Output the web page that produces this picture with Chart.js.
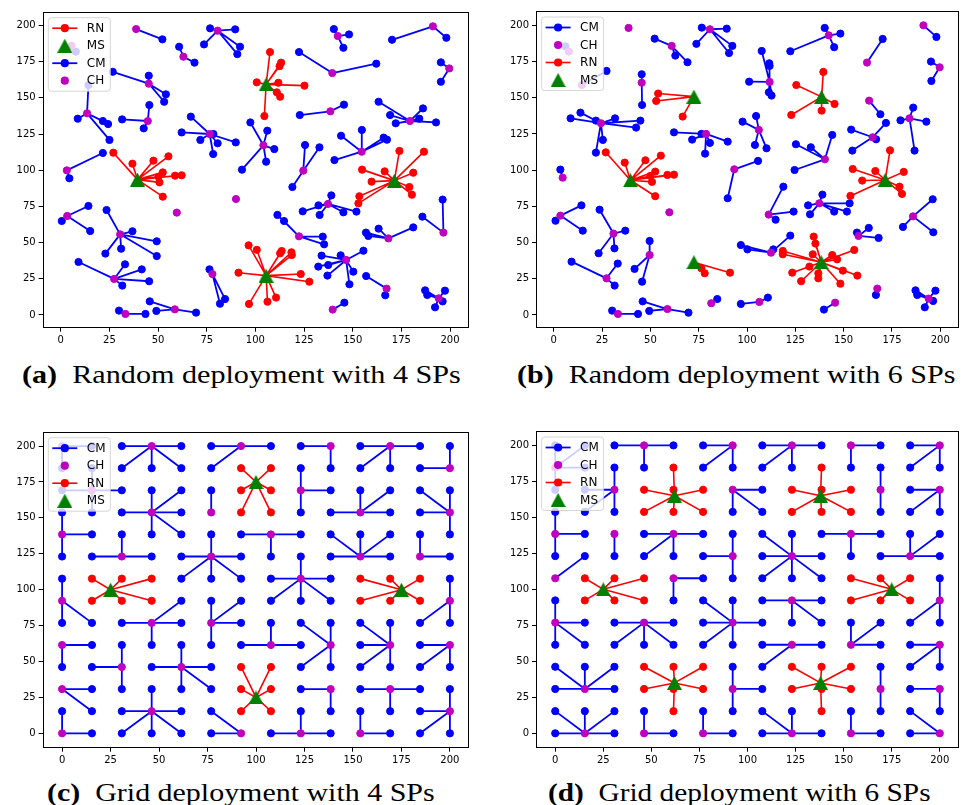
<!DOCTYPE html>
<html>
<head>
<meta charset="utf-8">
<script src="https://cdn.jsdelivr.net/npm/chart.js@4/dist/chart.umd.min.js"></script>
<style>
  body { margin: 0; width: 967px; height: 805px; background: #fff; position: relative; overflow: hidden; }
  canvas { position: absolute; }
  .cap { position: absolute; font-family: "Liberation Serif", serif; font-size: 25px; line-height: 28px;
         white-space: nowrap; transform-origin: 0 0; color: #000; }
</style>
</head>
<body>
<canvas id="chartA" width="480" height="350" style="left:0;top:0"></canvas>
<canvas id="chartB" width="477" height="350" style="left:490px;top:0"></canvas>
<canvas id="chartC" width="480" height="350" style="left:0;top:420px"></canvas>
<canvas id="chartD" width="477" height="350" style="left:490px;top:420px"></canvas>

<div class="cap" data-w="439" style="left:22px;top:361px"><b>(a)</b>&ensp;Random deployment with 4 SPs</div>
<div class="cap" data-w="438" style="left:517px;top:361px"><b>(b)</b>&ensp;Random deployment with 6 SPs</div>
<div class="cap" data-w="388" style="left:47px;top:779px"><b>(c)</b>&ensp;Grid deployment with 4 SPs</div>
<div class="cap" data-w="382" style="left:548px;top:779px"><b>(d)</b>&ensp;Grid deployment with 6 SPs</div>

<script>
// tick labels shared by every axis
const tickVals = [0, 25, 50, 75, 100, 125, 150, 175, 200];

// ---- (a) random deployment, 4 SPs ----
const aMS = [[39.4, 93.5], [105.5, 159.3], [171.4, 92.8], [105.5, 27.2]];
const aRN = [
  [[27.0, 112.1], [36.8, 104.5], [47.6, 106.6], [55.3, 109.6], [52.4, 98.5], [50.2, 95.5], [58.7, 96.2], [62.1, 96.5], [50.7, 91.6], [52.4, 81.7]],
  [[107.5, 181.6], [113.2, 174.3], [112.4, 171.9], [100.7, 160.7], [111.8, 160.4], [125.2, 158.4], [111.0, 153.8], [112.7, 150.8], [104.6, 137.4]],
  [[174.0, 113.3], [186.6, 112.8], [154.8, 100.4], [166.4, 99.2], [159.7, 92.1], [181.1, 98.3], [179.1, 88.4], [180.4, 83.1], [153.4, 82.0], [152.9, 77.1]],
  [[96.5, 48.1], [100.7, 45.0], [112.7, 42.6], [113.5, 44.2], [118.5, 43.3], [118.7, 41.4], [123.3, 28.3], [127.7, 23.0], [106.2, 9.2], [110.6, 12.0], [96.7, 7.6], [91.3, 29.2]]
];
const aCH = [
  [38.7, 197.5], [80.6, 196.4], [63.0, 178.4], [45.2, 159.8], [5.6, 186.0], [13.5, 139.3], [44.7, 134.0],
  [76.5, 125.0], [3.1, 99.9], [90.0, 80.1], [59.6, 70.7], [3.3, 68.4], [30.5, 55.7], [27.4, 24.9],
  [58.6, 3.9], [33.2, 0.7], [77.9, 28.3], [142.3, 192.7], [191.2, 199.4], [199.6, 170.3], [139.5, 167.1],
  [138.5, 140.7], [179.4, 134.0], [104.1, 117.2], [124.6, 99.7], [154.6, 112.8], [137.3, 76.7], [196.6, 56.9],
  [122.4, 54.3], [168.3, 52.9], [146.6, 38.0], [167.4, 18.2], [194.2, 11.5], [139.7, 3.7]
];
const aCM = [
  [[52.2, 190.4]],
  [[76.7, 198.0], [89.6, 197.3], [92.1, 185.3], [90.7, 180.2], [73.6, 186.9]],
  [[60.8, 185.3], [68.7, 174.3]],
  [[26.7, 168.0], [45.2, 165.3], [54.0, 152.4], [53.1, 147.3]],
  [[7.7, 181.9]],
  [[14.2, 158.8], [8.7, 135.6], [21.6, 134.0], [24.3, 131.9], [25.0, 120.9]],
  [[45.5, 145.0], [31.5, 135.1], [42.6, 128.9]],
  [[66.8, 137.0], [62.1, 126.1], [71.7, 120.9], [78.4, 125.0], [80.6, 118.6], [89.9, 119.2], [78.3, 111.2]],
  [[21.6, 111.9], [4.4, 94.4]],
  [],
  [],
  [[14.2, 75.3], [0.5, 64.9], [15.1, 58.0]],
  [[23.5, 72.5], [36.8, 57.8], [49.3, 50.9], [49.3, 40.7], [31.0, 45.8], [22.9, 42.4]],
  [[9.1, 36.6], [33.0, 35.0], [41.6, 31.5], [45.4, 23.3], [31.6, 20.3]],
  [[45.7, 9.4], [49.1, 2.8], [69.5, 1.6]],
  [[29.9, 3.0], [43.5, 0.7]],
  [[76.4, 31.5], [81.8, 7.8], [84.4, 11.0]],
  [[140.3, 197.5], [148.1, 193.8], [145.2, 184.6]],
  [[170.2, 190.1], [198.1, 191.5]],
  [[195.3, 174.5], [195.3, 161.1]],
  [[122.4, 181.6], [162.1, 173.6]],
  [[122.8, 138.1], [145.5, 145.3]],
  [[163.3, 147.3], [169.2, 138.1], [172.1, 132.4], [186.1, 142.7], [184.2, 135.6], [192.8, 133.0]],
  [[97.4, 133.0], [106.1, 127.3], [109.7, 114.6], [105.5, 105.9], [93.1, 100.4]],
  [[125.5, 117.4], [132.9, 115.8], [119.0, 88.4]],
  [[144.0, 123.8], [154.7, 127.8], [165.9, 122.5], [167.6, 121.1], [140.6, 107.0]],
  [[139.0, 82.6], [124.3, 71.6], [132.4, 75.7], [133.0, 69.1], [145.2, 70.9], [151.9, 71.4]],
  [[196.2, 79.7], [185.8, 67.9]],
  [[111.3, 69.1], [114.7, 64.9], [134.6, 54.1], [135.3, 48.8]],
  [[156.8, 56.9], [163.3, 59.6], [181.1, 60.5], [158.0, 54.6]],
  [[155.5, 44.4], [143.8, 41.2], [134.0, 41.0], [132.3, 33.4], [137.0, 27.2], [150.3, 29.9], [148.3, 21.2], [137.4, 34.5]],
  [[156.9, 26.9], [166.7, 13.6]],
  [[187.2, 17.0], [188.3, 13.8], [197.4, 16.8], [196.2, 9.4], [192.3, 5.3]],
  [[145.7, 8.5]]
];

// ---- (b) random deployment, 6 SPs ----
const bMS = [[39.7, 93.0], [72.5, 150.8], [72.5, 36.4], [138.6, 150.6], [171.5, 93.2], [138.4, 36.4]];
const bRN = [
  [[26.9, 112.3], [36.7, 105.2], [47.4, 106.8], [55.4, 110.0], [52.5, 99.0], [50.0, 96.0], [58.8, 96.7], [62.2, 96.9], [50.8, 91.9], [52.5, 82.0]],
  [[54.0, 152.9], [53.0, 147.8], [66.7, 137.0]],
  [[76.4, 32.2], [78.1, 28.8], [91.2, 29.2]],
  [[139.5, 167.8], [125.5, 158.8], [145.3, 145.7], [122.9, 138.1], [138.6, 141.1]],
  [[174.0, 113.7], [154.7, 100.8], [166.4, 99.4], [181.1, 98.8], [159.6, 92.8], [178.9, 88.6], [180.2, 83.6], [153.5, 82.2]],
  [[134.5, 54.1], [135.4, 49.3], [118.5, 44.2], [118.5, 41.9], [134.0, 41.9], [144.1, 41.4], [146.6, 38.4], [155.5, 44.9],
   [123.4, 29.2], [132.3, 33.4], [136.9, 28.8], [136.9, 25.3], [128.0, 23.3], [149.6, 30.6], [157.1, 27.2], [148.3, 21.6]]
];
const bCH = [
  [7.8, 181.9], [14.5, 158.8], [38.7, 198.2], [61.0, 185.8], [80.8, 197.3], [45.5, 160.4], [24.4, 132.4],
  [78.8, 125.0], [93.4, 100.6], [4.6, 94.8], [59.8, 70.9], [3.4, 68.6], [30.9, 56.2], [49.6, 41.4],
  [27.3, 25.3], [81.5, 8.1], [58.8, 4.1], [33.2, 0.7], [142.3, 193.1], [162.1, 174.3], [191.3, 200.0],
  [199.7, 171.0], [111.7, 160.9], [163.2, 148.0], [184.1, 135.8], [106.1, 127.8], [165.0, 122.7], [140.3, 107.5],
  [137.4, 77.1], [111.2, 69.3], [185.9, 68.1], [157.7, 54.6], [112.4, 43.0], [167.4, 18.2], [194.0, 11.3],
  [145.6, 8.5], [106.4, 9.0]
];
const bCM = [
  [[6.0, 185.5]],
  [[27.3, 168.5]],
  [],
  [[52.2, 190.8], [62.9, 179.1], [69.2, 174.5]],
  [[76.6, 198.4], [89.5, 197.7], [92.4, 185.8], [90.7, 180.9], [73.8, 187.2]],
  [[45.5, 166.2], [45.7, 145.0]],
  [[8.7, 135.8], [13.8, 139.7], [21.8, 134.2], [31.7, 135.8], [44.8, 134.2], [42.6, 129.4], [25.4, 120.9], [21.8, 112.1]],
  [[62.2, 126.1], [71.6, 121.1], [76.4, 125.0], [80.8, 118.8], [90.0, 119.7], [78.3, 111.4]],
  [[90.0, 80.6], [105.7, 106.4]],
  [[3.4, 100.4]],
  [],
  [[14.3, 75.7], [0.9, 65.1], [15.0, 58.2]],
  [[23.7, 72.7], [37.0, 58.2], [23.2, 42.6], [31.4, 46.0]],
  [[49.6, 51.1], [41.8, 31.8], [45.7, 23.0]],
  [[9.2, 36.8], [33.1, 35.5], [31.5, 20.3]],
  [[84.6, 11.0]],
  [[46.0, 9.4], [49.4, 2.8], [69.7, 1.6]],
  [[30.2, 3.0], [43.6, 0.7]],
  [[140.2, 198.2], [148.3, 194.3], [145.1, 184.9], [122.4, 182.1]],
  [[170.2, 190.6]],
  [[198.0, 192.0]],
  [[195.2, 175.0], [195.4, 161.6]],
  [[107.6, 182.3], [111.5, 173.8], [111.7, 172.0], [101.1, 161.1], [112.7, 151.5], [111.3, 153.8]],
  [[169.0, 138.6]],
  [[186.0, 143.2], [179.4, 134.4], [192.8, 133.5], [186.7, 113.5]],
  [[97.7, 133.5], [104.7, 137.4], [104.1, 117.4], [110.1, 115.1]],
  [[153.9, 128.0], [171.9, 132.6], [166.8, 121.3], [154.5, 113.5]],
  [[125.3, 117.9], [133.0, 115.8], [144.1, 124.3], [124.6, 100.1]],
  [[139.0, 83.1], [131.6, 75.7], [132.6, 69.5], [145.1, 71.4], [151.7, 71.4], [153.1, 77.1]],
  [[118.8, 88.6], [124.1, 71.4], [114.8, 65.8]],
  [[196.1, 79.9], [180.7, 60.8], [196.4, 57.1]],
  [[156.9, 56.9], [163.0, 60.1], [168.1, 53.2]],
  [[122.4, 54.8], [96.8, 48.3], [100.2, 45.3], [113.6, 45.3]],
  [[166.7, 13.8]],
  [[187.2, 17.0], [188.1, 13.8], [197.5, 16.8], [196.3, 9.7], [192.0, 5.3]],
  [[139.8, 3.7]],
  [[110.8, 12.0], [96.8, 7.6]]
];

// ---- grid deployments: nodes sit on a 14 x 14 lattice, given as [column, row] ----
const gridPos = [0, 15.4, 30.8, 46.2, 61.5, 76.9, 92.3, 107.7, 123.1, 138.5, 153.8, 169.2, 184.6, 200];

// (c) grid deployment, 4 SPs (MS given in plot units)
const cMS = [[25, 100], [100, 175], [175, 100], [100, 25]];
const cRN = [
  [[1, 7], [2, 7], [3, 7], [1, 6], [2, 6], [3, 6]],
  [[6, 12], [6, 11], [6, 10], [7, 12], [7, 11], [7, 10]],
  [[10, 7], [11, 7], [12, 7], [10, 6], [11, 6], [12, 6]],
  [[6, 3], [6, 2], [6, 1], [7, 3], [7, 2], [7, 1]]
];
const cCH = [
  [0, 13], [3, 13], [6, 13], [1, 11], [3, 10], [5, 10], [0, 9], [2, 8], [5, 8], [7, 9], [0, 6], [3, 5], [5, 5],
  [0, 4], [2, 3], [4, 3], [7, 4], [0, 2], [3, 1], [0, 0], [6, 0], [9, 13], [11, 13], [13, 12], [8, 11], [10, 10],
  [13, 10], [10, 8], [12, 8], [8, 7], [13, 6], [9, 4], [11, 4], [13, 4], [9, 2], [11, 2], [13, 1], [8, 0], [10, 0]
];
const cCM = [
  [[0, 12], [1, 13]],
  [[2, 13], [4, 13], [2, 12], [3, 12], [4, 12]],
  [[5, 13], [5, 12], [7, 13]],
  [[0, 11], [2, 11], [1, 12], [1, 10]],
  [[3, 11], [4, 11], [2, 10], [4, 10], [4, 9], [3, 9]],
  [[5, 11]],
  [[0, 10], [1, 9], [0, 8]],
  [[2, 9], [1, 8], [3, 8]],
  [[5, 9], [4, 8], [6, 8], [4, 7], [5, 7], [6, 7]],
  [[6, 9], [8, 9], [7, 8]],
  [[0, 7], [1, 5], [0, 5]],
  [[2, 5], [4, 5], [4, 6], [3, 4]],
  [[5, 6], [6, 6], [6, 5], [5, 4]],
  [[1, 4], [0, 3]],
  [[2, 4], [1, 3], [2, 2]],
  [[4, 4], [3, 3], [5, 3], [4, 2], [5, 2]],
  [[6, 4], [8, 4], [7, 5]],
  [[1, 2], [1, 1]],
  [[3, 2], [2, 1], [4, 1], [3, 0], [2, 0], [4, 0]],
  [[0, 1], [1, 0]],
  [[5, 1], [5, 0]],
  [[8, 13], [9, 12]],
  [[10, 13], [12, 13], [10, 12], [11, 12]],
  [[13, 13], [12, 12]],
  [[8, 12], [9, 11], [8, 10]],
  [[10, 11], [11, 11], [9, 10], [11, 10]],
  [[12, 11], [13, 11], [12, 10], [13, 9]],
  [[9, 9], [10, 9], [11, 9], [9, 8], [11, 8]],
  [[12, 9], [13, 8]],
  [[7, 7], [9, 7], [7, 6], [8, 6], [9, 6], [8, 8]],
  [[13, 7], [12, 5], [13, 5]],
  [[8, 5], [9, 5], [8, 3], [9, 3]],
  [[10, 5], [11, 5], [10, 4], [10, 3], [11, 3]],
  [[12, 4], [12, 3], [13, 3]],
  [[8, 2], [9, 1]],
  [[10, 2], [12, 2], [11, 1]],
  [[13, 2], [12, 1], [12, 0], [13, 0]],
  [[8, 1], [7, 0], [9, 0]],
  [[10, 1], [11, 0]]
];

// (d) grid deployment, 6 SPs
const dMS = [[25, 100], [62, 165], [62, 35], [138, 165], [138, 35], [175, 100]];
const dRN = [
  [[1, 7], [2, 7], [3, 7], [1, 6], [2, 6], [3, 6]],
  [[4, 12], [3, 11], [4, 11], [5, 11], [3, 10], [4, 10], [5, 10]],
  [[3, 3], [4, 3], [5, 3], [3, 2], [4, 2], [5, 2], [4, 1]],
  [[9, 12], [8, 11], [9, 11], [10, 11], [8, 10], [9, 10], [10, 10]],
  [[8, 3], [9, 3], [10, 3], [8, 2], [9, 2], [10, 2], [9, 1]],
  [[10, 7], [11, 7], [12, 7], [10, 6], [11, 6], [12, 6]]
];
const dCH = [
  [0, 12], [3, 13], [6, 13], [2, 11], [6, 11], [0, 9], [2, 9], [4, 9], [6, 8], [0, 7], [4, 7], [0, 5], [3, 5],
  [6, 5], [1, 2], [6, 2], [1, 0], [3, 0], [5, 0], [8, 13], [10, 13], [13, 13], [11, 11], [13, 11], [10, 9],
  [8, 8], [12, 8], [13, 6], [8, 6], [10, 4], [8, 4], [13, 4], [11, 2], [13, 2], [8, 0], [10, 0], [13, 0]
];
const dCM = [
  [[0, 13], [1, 13], [1, 12], [0, 11]],
  [[2, 13], [4, 13], [3, 12]],
  [[5, 13], [5, 12], [6, 12]],
  [[2, 12], [1, 11], [1, 10], [2, 10]],
  [[7, 11], [7, 10], [6, 10]],
  [[1, 9], [0, 10], [0, 8]],
  [[2, 8]],
  [[3, 9], [5, 9], [3, 8], [4, 8]],
  [[5, 8], [6, 9], [6, 7]],
  [[1, 8]],
  [[5, 7], [4, 6]],
  [[1, 5], [1, 4], [0, 4], [0, 6]],
  [[2, 5], [4, 5], [2, 4], [3, 4], [4, 4]],
  [[5, 5], [7, 5], [5, 4], [6, 4], [5, 6], [6, 6]],
  [[0, 2], [2, 2], [0, 3], [1, 3], [2, 3]],
  [[6, 3], [7, 2], [6, 1]],
  [[0, 0], [2, 0], [0, 1], [1, 1], [2, 1]],
  [[3, 1], [4, 0]],
  [[5, 1], [6, 0]],
  [[7, 13], [9, 13], [7, 12], [8, 12]],
  [[11, 13], [10, 12]],
  [[12, 13], [12, 12], [13, 12]],
  [[11, 12], [11, 10]],
  [[12, 11], [12, 10], [13, 10]],
  [[9, 9], [11, 9], [10, 8]],
  [[7, 9], [8, 9], [7, 8], [9, 8], [7, 7], [8, 7], [9, 7]],
  [[12, 9], [13, 9], [11, 8], [13, 8]],
  [[13, 7], [12, 5], [13, 5]],
  [[7, 6], [9, 6], [8, 5], [9, 5]],
  [[10, 5], [11, 5], [11, 4]],
  [[7, 4], [9, 4], [7, 3]],
  [[12, 4], [12, 3], [13, 3]],
  [[11, 3], [11, 1]],
  [[12, 2], [13, 1]],
  [[7, 0], [9, 0], [7, 1], [8, 1]],
  [[10, 1], [11, 0]],
  [[12, 0], [12, 1]]
];

const BLUE = '#0000ff', MAGENTA = '#bf00bf', RED = '#ff0000', GREEN = '#008000';

// green up-triangle marker, centred on its bounding box
const tri = document.createElement('canvas');
tri.width = 15; tri.height = 14;
const tc = tri.getContext('2d');
tc.fillStyle = GREEN;
tc.beginPath(); tc.moveTo(7.5, 0); tc.lineTo(15, 14); tc.lineTo(0, 14); tc.closePath(); tc.fill();

const pt = p => ({ x: p[0], y: p[1] });
const gp = p => ({ x: gridPos[p[0]], y: gridPos[p[1]] });

// center -> member -> center -> member ... so one dataset draws a whole star
function star(center, members) {
  const out = [];
  members.forEach(m => out.push(center, m));
  return out;
}

const lineSet = (data, color, w) => ({
  data, showLine: true, borderColor: color, borderWidth: w, pointRadius: 0,
  borderJoinStyle: 'round', borderCapStyle: 'round'
});
const dotSet = (data, color) => ({
  data, showLine: false, pointRadius: 3.6, pointBorderWidth: 1,
  pointBackgroundColor: color, pointBorderColor: color
});
const triSet = data => ({ data, showLine: false, pointStyle: tri, pointRadius: 7 });

function buildNet(ms, rn, ch, cm, redFirst) {
  const blue = [];
  cm.forEach((g, k) => { if (g.length) blue.push(lineSet(star(ch[k], g), BLUE, 1.8)); });
  blue.push(dotSet(cm.flat(), BLUE));
  blue.push(dotSet(ch, MAGENTA));
  const red = [];
  rn.forEach((g, k) => red.push(lineSet(star(ms[k], g), RED, 1.6)));
  red.push(dotSet(rn.flat(), RED));
  red.push(triSet(ms));
  const all = redFirst ? red.concat(blue) : blue.concat(red);
  // lower order is painted last, so later sets end up on top
  all.forEach((d, k) => { d.order = -k; });
  return all;
}

// full box around the plot area
const frame = {
  id: 'frame',
  afterDatasetsDraw(chart) {
    const { ctx, chartArea: a } = chart;
    const l = Math.round(a.left) + 0.5, t = Math.round(a.top) + 0.5;
    const r = Math.round(a.right) - 0.5, b = Math.round(a.bottom) - 0.5;
    ctx.save();
    ctx.strokeStyle = '#000';
    ctx.lineWidth = 1;
    ctx.strokeRect(l, t, r - l, b - t);
    ctx.restore();
  }
};

// semi-transparent legend box in the upper left corner
const netLegend = {
  id: 'netLegend',
  afterDraw(chart, args, opts) {
    const { ctx, chartArea: a } = chart;
    const x0 = a.left + 5.6, y0 = a.top + 6, w = 62, h = 73.5;
    ctx.save();
    ctx.beginPath();
    ctx.roundRect(x0, y0, w, h, 3);
    ctx.fillStyle = 'rgba(255,255,255,0.8)';
    ctx.fill();
    ctx.strokeStyle = 'rgba(204,204,204,0.8)';
    ctx.lineWidth = 1;
    ctx.stroke();
    ctx.font = '12px "DejaVu Sans"';
    ctx.textBaseline = 'middle';
    opts.items.forEach((it, k) => {
      const y = y0 + 10.5 + k * 17.5;
      const mx = x0 + 16.5;
      if (it.line) {
        ctx.strokeStyle = it.color;
        ctx.lineWidth = it.color === RED ? 1.6 : 1.8;
        ctx.beginPath(); ctx.moveTo(x0 + 4, y); ctx.lineTo(x0 + 29, y); ctx.stroke();
      }
      if (it.tri) {
        ctx.drawImage(tri, mx - 7.5, y - 7);
      } else {
        ctx.fillStyle = it.color;
        ctx.beginPath(); ctx.arc(mx, y, 4.1, 0, Math.PI * 2); ctx.fill();
      }
      ctx.fillStyle = '#000';
      ctx.fillText(it.label, x0 + 38.5, y + 0.5);
    });
    ctx.restore();
  }
};

const LEG = {
  CM: { label: 'CM', color: BLUE, line: true },
  CH: { label: 'CH', color: MAGENTA },
  RN: { label: 'RN', color: RED, line: true },
  MS: { label: 'MS', tri: true }
};

function axis(range, size, dir) {
  return {
    type: 'linear', min: range[0], max: range[1],
    afterBuildTicks: s => { s.ticks = tickVals.map(v => ({ value: v })); },
    afterFit: s => { if (dir === 'x') s.height = size; else s.width = size; },
    grid: { drawOnChartArea: false, drawTicks: true, tickLength: 4, color: '#000', lineWidth: 1 },
    border: { display: false },
    ticks: { font: { family: 'DejaVu Sans', size: 10 }, color: '#000', padding: 3, maxRotation: 0, autoSkip: false }
  };
}

function makeChart(id, datasets, cfg) {
  return new Chart(document.getElementById(id), {
    type: 'scatter',
    data: { datasets },
    options: {
      responsive: false,
      animation: false,
      events: [],
      layout: { padding: cfg.pad },
      scales: { x: axis(cfg.xr, cfg.axisH, 'x'), y: axis(cfg.yr, cfg.axisW, 'y') },
      plugins: { legend: { display: false }, tooltip: { enabled: false }, netLegend: { items: cfg.legend } }
    },
    plugins: [frame, netLegend]
  });
}

makeChart('chartA',
  buildNet(aMS.map(pt), aRN.map(g => g.map(pt)), aCH.map(pt), aCM.map(g => g.map(pt)), true),
  { pad: { left: 0, top: 11.7, right: 10.7, bottom: 0 }, axisW: 42.7, axisH: 22.3,
    xr: [-9.3, 209.9], yr: [-8.8, 209.5], legend: [LEG.RN, LEG.MS, LEG.CM, LEG.CH] });

makeChart('chartB',
  buildNet(bMS.map(pt), bRN.map(g => g.map(pt)), bCH.map(pt), bCM.map(g => g.map(pt)), false),
  { pad: { left: 0, top: 11, right: 3, bottom: 0 }, axisW: 46, axisH: 22.3,
    xr: [-9.2, 209.7], yr: [-8.8, 209.9], legend: [LEG.CM, LEG.CH, LEG.RN, LEG.MS] });

makeChart('chartC',
  buildNet(cMS.map(pt), cRN.map(g => g.map(gp)), cCH.map(gp), cCM.map(g => g.map(gp)), false),
  { pad: { left: 0, top: 11.7, right: 10.7, bottom: 0 }, axisW: 42.7, axisH: 22.3,
    xr: [-10, 210], yr: [-10, 210], legend: [LEG.CM, LEG.CH, LEG.RN, LEG.MS] });

makeChart('chartD',
  buildNet(dMS.map(pt), dRN.map(g => g.map(gp)), dCH.map(gp), dCM.map(g => g.map(gp)), false),
  { pad: { left: 0, top: 11, right: 3, bottom: 0 }, axisW: 46, axisH: 22.3,
    xr: [-10, 210], yr: [-10, 210], legend: [LEG.CM, LEG.CH, LEG.RN, LEG.MS] });

// stretch each caption to its column width
document.querySelectorAll('.cap').forEach(el => {
  const s = +el.dataset.w / el.scrollWidth;
  el.style.transform = 'scaleX(' + s.toFixed(3) + ')';
});
</script>
</body>
</html>
